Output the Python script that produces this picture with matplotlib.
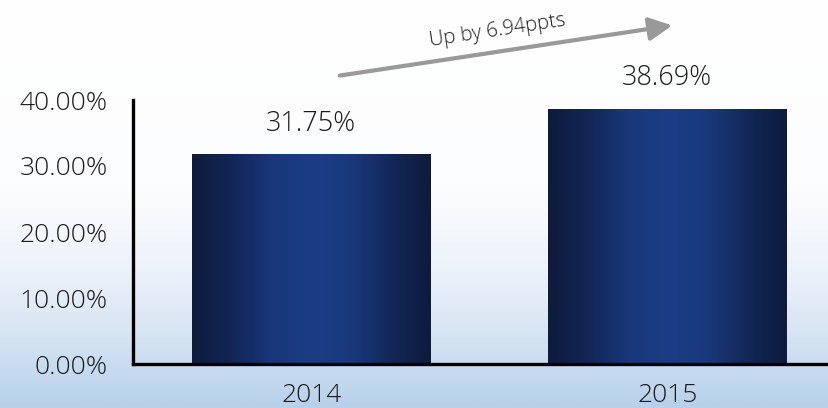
import numpy as np
import matplotlib
matplotlib.use("Agg")
import matplotlib.pyplot as plt
from matplotlib.colors import LinearSegmentedColormap
from matplotlib.patches import FancyArrowPatch

years = ["2014", "2015"]
shares = [31.75, 38.69]
value_labels = ["31.75%", "38.69%"]
yticks = [0, 10, 20, 30, 40]
ytick_labels = ["0.00%", "10.00%", "20.00%", "30.00%", "40.00%"]
change_label = "Up by 6.94ppts"

plt.rcParams["font.family"] = ["Open Sans", "DejaVu Sans"]
plt.rcParams["font.weight"] = "light"

fig = plt.figure(figsize=(8.29, 4.08), dpi=100)

# sky-like background: white at top fading to pale blue at the bottom
bg = fig.add_axes([0, 0, 1, 1], zorder=0)
bg.set_axis_off()
t = np.linspace(0, 1, 256)[:, None]
sky = LinearSegmentedColormap.from_list(
    "sky", [(0.0, "#ffffff"), (0.45, "#fcfdfe"), (0.65, "#eef3fa"), (0.8, "#dae6f4"),
            (0.9, "#c8dcf0"), (1.0, "#b7d0eb")])
bg.imshow(np.repeat(t, 2, axis=1), cmap=sky, aspect="auto", extent=[0, 1, 0, 1], origin="upper")
bg.set_xlim(0, 1)
bg.set_ylim(0, 1)

ax = fig.add_axes([133 / 829, 44 / 408, 1 - 133 / 829, 264 / 408], zorder=1)
ax.patch.set_alpha(0)

x = np.arange(len(years))
bars = ax.bar(x, shares, width=0.671, color="none", edgecolor="none", zorder=2)

# horizontal shading inside each bar: dark edges, brighter centre
shade = LinearSegmentedColormap.from_list(
    "shade", ["#0e1b3c", "#132656", "#19377a", "#1c3d84", "#1a397d", "#132858", "#0e1b3c"])
grad = np.linspace(0, 1, 256)[None, :]
for b in bars:
    x0, y0 = b.get_x(), b.get_y()
    w, h = b.get_width(), b.get_height()
    im = ax.imshow(grad, cmap=shade, aspect="auto", extent=[x0, x0 + w, y0, y0 + h],
                   zorder=2, interpolation="bicubic")
    im.set_clip_path(b)

for xi, v, lab in zip(x, shares, value_labels):
    ax.annotate(lab, (xi, v), xytext=(0, 12), textcoords="offset points",
                ha="center", va="bottom", fontsize=19.5, color="#1a1a1a")

ax.set_xlim(-0.501, 1.454)
ax.set_ylim(0, 40)
ax.set_yticks(yticks)
ax.set_yticklabels(ytick_labels)
ax.set_xticks(x)
ax.set_xticklabels(years)
ax.tick_params(axis="both", length=0, labelsize=19, labelcolor="#1a1a1a")
ax.tick_params(axis="y", pad=18)
ax.tick_params(axis="x", pad=14)
for side in ("top", "right"):
    ax.spines[side].set_visible(False)
for side in ("left", "bottom"):
    ax.spines[side].set_linewidth(2.4)
    ax.spines[side].set_color("black")

# trend arrow with annotation
fig.patches.append(FancyArrowPatch(
    (337 / 829, 1 - 76 / 408), (675 / 829, 1 - 25 / 408), transform=fig.transFigure,
    arrowstyle="-|>,head_length=0.7,head_width=0.35", mutation_scale=20,
    color="#999999", linewidth=3, zorder=3))
fig.text(497 / 829, 1 - 31 / 408, change_label, rotation=8.6, ha="center", va="center",
         fontsize=14.5, color="#1a1a1a", rotation_mode="anchor")

fig.savefig("out.png", dpi=100)
